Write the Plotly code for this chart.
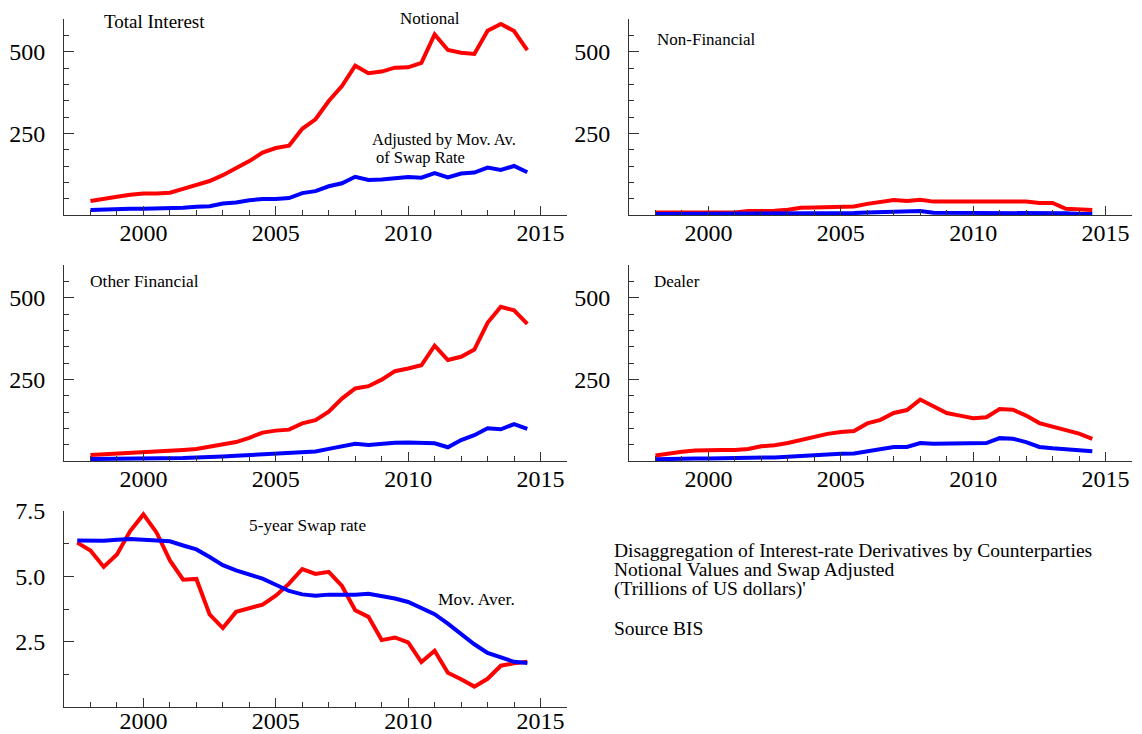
import plotly.graph_objects as go

# semi-annual observations
years = [1998 + 0.5 * i for i in range(34)]
years_swap = [1997.5 + 0.5 * i for i in range(35)]

total_notional = [43, 51, 56, 62, 66, 66, 68, 80, 93, 104, 122, 143, 165, 191, 205, 212, 264,
                  293, 349, 395, 457, 434, 439, 451, 452, 466, 553, 505, 497, 493, 564, 585, 563, 505]
total_adjusted = [15, 17, 18, 19, 19, 19, 19, 22, 25, 27, 35, 38, 45, 49, 49, 52, 67,
                  73, 88, 97, 117, 107, 109, 113, 116, 114, 128, 115, 127, 130, 145, 138, 150, 131]

nonfin_notional = [8, 8, 8, 8, 8, 8, 8, 12, 12, 13, 16, 22, 23, 23, 26, 26, 34,
                   39, 46, 43, 47, 41, 41, 39, 40, 40, 41, 39, 41, 37, 37, 19, 18, 15]
nonfin_adjusted = [3, 3, 3, 3, 3, 3, 3, 5, 5, 5, 5, 5, 5, 5, 5, 6, 8,
                   9, 11, 12, 12, 7, 7, 7, 7, 7, 7, 5, 5, 5, 7, 5, 3, 3]

otherfin_notional = [18, 20, 21, 24, 26, 27, 30, 34, 37, 44, 53, 58, 71, 87, 93, 96, 115,
                     125, 151, 191, 222, 229, 249, 275, 283, 293, 353, 309, 319, 341, 423, 472, 461, 420]
otherfin_adjusted = [6, 6, 8, 8, 7, 7, 8, 9, 11, 11, 14, 16, 18, 20, 20, 22, 26,
                     29, 37, 45, 53, 49, 53, 56, 57, 56, 54, 42, 64, 79, 100, 97, 113, 98]

dealer_notional = [17, 24, 28, 32, 34, 34, 34, 37, 45, 48, 55, 65, 75, 83, 89, 92, 115,
                   126, 147, 156, 188, 166, 147, 139, 131, 134, 159, 157, 139, 116, 105, 96, 84, 68]
dealer_adjusted = [5, 7, 8, 8, 8, 8, 8, 10, 11, 11, 13, 16, 19, 20, 22, 23, 29,
                   34, 43, 43, 55, 53, 54, 55, 56, 55, 70, 68, 58, 43, 39, 36, 35, 30]

swap_rate = [6.29, 5.99, 5.36, 5.84, 6.73, 7.37, 6.67, 5.61, 4.87, 4.90, 3.54, 3.02, 3.64,
             3.77, 3.92, 4.26, 4.72, 5.28, 5.09, 5.17, 4.63, 3.70, 3.45, 2.56, 2.66, 2.47,
             1.72, 2.15, 1.31, 1.06, 0.78, 1.08, 1.58, 1.67, 1.73]
swap_movav = [6.37, 6.35, 6.36, 6.40, 6.43, 6.40, 6.37, 6.34, 6.18, 6.03, 5.74, 5.43, 5.23,
              5.08, 4.91, 4.68, 4.44, 4.31, 4.26, 4.30, 4.29, 4.30, 4.33, 4.24, 4.15, 4.02,
              3.79, 3.55, 3.19, 2.81, 2.40, 2.07, 1.90, 1.73, 1.68]

# page is 1142x734 but the html body has an 8px margin, so the figure
# is a bit smaller and positions below are given in page pixels
OFF = 8
W, H = 1142 - OFF, 734 - OFF
FONT = "Liberation Serif"
RED = "#ff0000"
BLUE = "#0000ff"


def fx(p):
    return (p - OFF) / W


def fy(p):
    return 1 - (p - OFF) / H


def px_x(a, b):
    return [fx(a), fx(b)]


def px_y(top, bottom):
    return [fy(bottom), fy(top)]


panels = [
    # axis suffix, x domain, y domain, x data, red, blue, y range, tickvals, ticktext,
    # minor dtick, x label standoff
    ("", px_x(64, 567), px_y(19, 215), years, total_notional, total_adjusted,
     [0, 600], [0, 250, 500], ["", "250", "500"], 50, -4),
    ("2", px_x(629, 1132), px_y(19, 215), years, nonfin_notional, nonfin_adjusted,
     [0, 600], [0, 250, 500], ["", "250", "500"], 50, -4),
    ("3", px_x(64, 567), px_y(265, 461), years, otherfin_notional, otherfin_adjusted,
     [0, 600], [0, 250, 500], ["", "250", "500"], 50, -4),
    ("4", px_x(629, 1132), px_y(265, 461), years, dealer_notional, dealer_adjusted,
     [0, 600], [0, 250, 500], ["", "250", "500"], 50, -4),
    ("5", px_x(64, 567), px_y(511, 707), years_swap, swap_rate, swap_movav,
     [0, 7.5], [0, 2.5, 5.0, 7.5], ["", "2.5", "5.0", "7.5"], 1.25, -8),
]

fig = go.Figure()
layout = {}
for suf, xd, yd, xs, red, blue, yr, tv, tt, ymin, xoff in panels:
    fig.add_trace(go.Scatter(x=xs, y=red, mode="lines", line=dict(color=RED, width=4),
                             xaxis="x" + suf, yaxis="y" + suf, cliponaxis=False))
    fig.add_trace(go.Scatter(x=xs, y=blue, mode="lines", line=dict(color=BLUE, width=4),
                             xaxis="x" + suf, yaxis="y" + suf, cliponaxis=False))
    layout["xaxis" + suf] = dict(
        domain=xd, anchor="y" + suf, range=[1997, 2016], tickmode="linear", tick0=2000, dtick=5,
        showline=True, linecolor="#333", linewidth=1, ticks="inside", ticklen=9,
        tickcolor="#333", showgrid=False, zeroline=False, automargin=False,
        ticklabelstandoff=xoff, tickfont=dict(family=FONT, size=24, color="black"),
        minor=dict(ticks="inside", ticklen=5, tickcolor="#333", tickmode="linear",
                   tick0=1997, dtick=1, showgrid=False),
    )
    layout["yaxis" + suf] = dict(
        domain=yd, anchor="x" + suf, range=yr, tickmode="array", tickvals=tv, ticktext=tt,
        showline=True, linecolor="#333", linewidth=1, ticks="inside", ticklen=10,
        tickcolor="#333", showgrid=False, zeroline=False, ticklabelstandoff=13,
        automargin=False, tickfont=dict(family=FONT, size=24, color="black"),
        minor=dict(ticks="inside", ticklen=5, tickcolor="#333", tickmode="linear",
                   tick0=0, dtick=ymin, showgrid=False),
    )


def note(x, y, text, size=17, anchor="left"):
    return dict(x=fx(x), y=fy(y), xref="paper", yref="paper", text=text, showarrow=False,
                xanchor=anchor, yanchor="middle", align="left",
                font=dict(family=FONT, size=size, color="black"))


annotations = [
    note(102, 22, "Total Interest", size=19),
    note(430, 18, "Notional", anchor="center"),
    note(370, 139, "Adjusted by Mov. Av.", size=16.5),
    note(374, 157, "of Swap Rate", size=16.5),
    note(655, 39, "Non-Financial"),
    note(88, 281, "Other Financial", size=17.4),
    note(652, 281, "Dealer"),
    note(247, 525, "5-year Swap rate", size=17.3),
    note(436, 599, "Mov. Aver.", size=17.5),
    note(612, 550, "Disaggregation of Interest-rate Derivatives by Counterparties", size=19.5),
    note(612, 569, "Notional Values and Swap Adjusted", size=19.5),
    note(612, 589, "(Trillions of US dollars)'", size=19.5),
    note(612, 628, "Source BIS", size=19.5),
]

fig.update_layout(
    template="none", width=W, height=H, margin=dict(l=0, r=0, t=0, b=0, pad=0),
    showlegend=False, plot_bgcolor="white", paper_bgcolor="white",
    annotations=annotations, **layout,
)

fig.write_html("out.html")
